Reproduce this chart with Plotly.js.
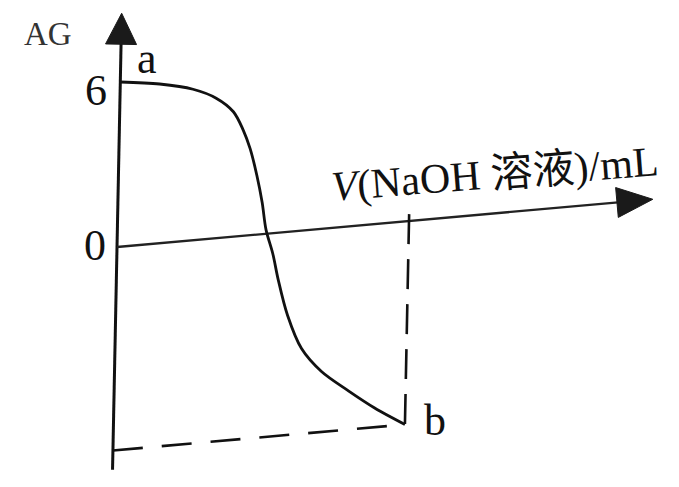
<!DOCTYPE html>
<html>
<head>
<meta charset="utf-8">
<script src="https://cdn.plot.ly/plotly-3.0.1.min.js"></script>
<style>
  html, body { margin: 0; padding: 0; background: #fff; }
  #chart { width: 679px; height: 487px; }
</style>
</head>
<body>
<div id="chart"></div>
<script>
// Titration curve: AG against volume of NaOH solution added
const volumeML = [0, 2.7, 5, 6.6, 7.8, 8.5, 9, 9.5, 9.9, 10.2, 10.7, 11.1, 11.8, 12.8, 14.2, 16.1, 17.9, 20];
const agCurve  = [6, 5.8, 5.5, 5.1, 4.55, 3.85, 3.15, 2.15, 1.15, 0.15, -0.75, -1.7, -3.05, -4.3, -5.2, -6.0, -6.7, -7.4];

const tickValues = [0, 6];
const tickLabels = ['0', '6'];
const pointNames = ['a', 'b'];
const axisTitleY = 'AG';
const axisTitleX = '<i>V</i>(NaOH 溶液)/mL';

// Extent of the drawn axes, in data units
const vAxisEnd = 36.7;
const agAxisMin = -8.1;
const agAxisMax = 8.5;

// The axes of this sketch are slightly oblique; skew() places a (V, AG) pair
// in the drawing frame (one frame unit = one pixel).
const ORIGIN = [117, 247];
const EV = [14.6, -1.3];
const EA = [0.55, -27.5];
function skew(v, ag) {
  return [ORIGIN[0] + v * EV[0] + ag * EA[0], ORIGIN[1] + v * EV[1] + ag * EA[1]];
}
function unit(d) { const n = Math.hypot(d[0], d[1]); return [d[0] / n, d[1] / n]; }

// filled triangular arrowhead with its tip at p, pointing along dir
function arrowHead(p, dir, len, width) {
  const u = unit(dir), n = [-u[1], u[0]];
  const b = [p[0] - u[0] * len, p[1] - u[1] * len];
  const pts = [p, [b[0] + n[0] * width / 2, b[1] + n[1] * width / 2], [b[0] - n[0] * width / 2, b[1] - n[1] * width / 2], p];
  return {
    x: pts.map(q => q[0]), y: pts.map(q => q[1]), mode: 'lines', fill: 'toself',
    fillcolor: '#1a1a1a', line: { color: '#1a1a1a', width: 1 }, hoverinfo: 'skip', showlegend: false
  };
}
function seg(points, style) {
  return {
    x: points.map(q => q[0]), y: points.map(q => q[1]), mode: 'lines',
    line: style, hoverinfo: 'skip', showlegend: false
  };
}

const lastIdx = volumeML.length - 1;
const bV = volumeML[lastIdx], bAG = agCurve[lastIdx];

const yTip = skew(0, agAxisMax);
const xTip = skew(vAxisEnd, 0);
const yHeadLen = 31, xHeadLen = 36;
const yDir = unit(EA), xDir = unit(EV);

const traces = [
  // y axis
  seg([skew(0, agAxisMin), [yTip[0] - yDir[0] * (yHeadLen - 4), yTip[1] - yDir[1] * (yHeadLen - 4)]],
      { color: '#111', width: 3 }),
  // x axis
  seg([skew(0, 0), [xTip[0] - xDir[0] * (xHeadLen - 4), xTip[1] - xDir[1] * (xHeadLen - 4)]],
      { color: '#222', width: 2.3 }),
  arrowHead(yTip, EA, yHeadLen, 31),
  arrowHead(xTip, EV, xHeadLen, 30),
  // guide lines to point b
  seg([skew(bV, 0.25), skew(bV, bAG)], { color: '#111', width: 2.6, dash: '30px,15px' }),
  seg([skew(0, bAG), skew(bV, bAG)], { color: '#111', width: 2.6, dash: '30px,19px' }),
  // titration curve
  {
    x: volumeML.map((v, i) => skew(v, agCurve[i])[0]),
    y: volumeML.map((v, i) => skew(v, agCurve[i])[1]),
    mode: 'lines', line: { color: '#111', width: 2.8, shape: 'spline', smoothing: 0.9 },
    hoverinfo: 'skip', showlegend: false
  }
];

const serif = 'Liberation Serif, Times New Roman, serif';
function label(p, text, dx, dy, size, extra) {
  return Object.assign({
    x: p[0], y: p[1], xref: 'x', yref: 'y', text: text, showarrow: false,
    xshift: dx, yshift: -dy, font: { family: serif, size: size, color: '#111' }
  }, extra || {});
}

const annotations = [
  label(yTip, axisTitleY, -74, 21, 33, { font: { family: serif, size: 33, color: '#333' } }),
  label(skew(0, tickValues[1]), tickLabels[1], -24, 8, 44),
  label(skew(0, tickValues[0]), tickLabels[0], -22, -2, 44),
  label(skew(0, agCurve[0]), pointNames[0], 27, -24, 44),
  label(skew(bV, bAG), pointNames[1], 30, -4, 44),
  label(skew(26, 0), axisTitleX, -2, -39, 42,
        { textangle: -4.5, font: { family: serif + ', Noto Sans CJK SC', size: 42, color: '#111' } })
];

const layout = {
  width: 679, height: 487,
  margin: { l: 0, r: 0, t: 0, b: 0 },
  paper_bgcolor: '#fff', plot_bgcolor: '#fff',
  xaxis: { range: [0, 679], visible: false, fixedrange: true },
  yaxis: { range: [487, 0], visible: false, fixedrange: true },
  annotations: annotations,
  showlegend: false
};

Plotly.newPlot('chart', traces, layout, { staticPlot: true, displayModeBar: false });
</script>
</body>
</html>
